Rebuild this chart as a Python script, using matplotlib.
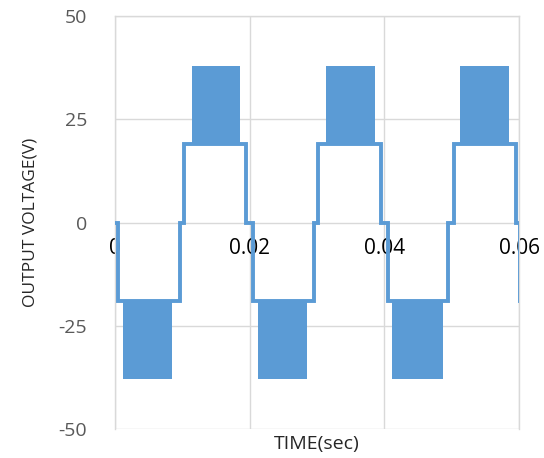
import matplotlib
matplotlib.use("Agg")
import matplotlib.pyplot as plt

# Five-level inverter output: staircase switching instants (s) and the level held after each
step_times = [0.0, 0.0005, 0.0096, 0.0103, 0.0195, 0.0205, 0.0295, 0.0302,
              0.0395, 0.0405, 0.0494, 0.0504, 0.0596, 0.0601, 0.0620]
step_levels = [0, -19, 0, 19, 0, -19, 0, 19, 0, -19, 0, 19, 0, -19, -19]

# High-frequency PWM bands between the inner and outer voltage levels
band_start = [0.0012, 0.0114, 0.0212, 0.0313, 0.0412, 0.0512]
band_end = [0.0085, 0.0186, 0.0285, 0.0386, 0.0487, 0.0585]
band_inner = [-19, 19, -19, 19, -19, 19]
band_outer = [-38, 38, -38, 38, -38, 38]

x_ticks = [0, 0.02, 0.04, 0.06]
x_tick_labels = ["0", "0.02", "0.04", "0.06"]
y_ticks = [-50, -25, 0, 25, 50]
y_tick_labels = ["-50", "-25", "0", "25", "50"]

BLUE = "#5B9BD5"
GRID = "#D9D9D9"

plt.rcParams["font.family"] = ["Open Sans", "DejaVu Sans"]

fig = plt.figure(figsize=(5.44, 4.58), dpi=100)
ax = fig.add_axes([115 / 544, 1 - 429 / 458, 404 / 544, 413 / 458])

ax.plot(step_times, step_levels, drawstyle="steps-post", color=BLUE,
        linewidth=2.8, solid_joinstyle="miter", zorder=3)
widths = [e - s for s, e in zip(band_start, band_end)]
heights = [o - i for i, o in zip(band_inner, band_outer)]
ax.bar(band_start, heights, width=widths, bottom=band_inner, align="edge",
       color=BLUE, linewidth=0, zorder=3)

ax.set_xlim(0, 0.06)
ax.set_ylim(-50, 50)
ax.set_xticks(x_ticks)
ax.set_xticklabels(x_tick_labels)
ax.set_yticks(y_ticks)
ax.set_yticklabels(y_tick_labels)

ax.grid(True, color=GRID, linewidth=1.0)
ax.set_axisbelow(True)
for side in ["top", "left", "right"]:
    ax.spines[side].set_color(GRID)
    ax.spines[side].set_linewidth(1.0)
ax.spines["bottom"].set_position(("data", 0))
ax.spines["bottom"].set_visible(False)

ax.tick_params(axis="x", length=0, pad=11, labelsize=15, labelcolor="#000000")
ax.tick_params(axis="y", length=0, pad=20, labelsize=14, labelcolor="#595959")

ax.set_xlabel("TIME(sec)", fontsize=14, color="#262626")
ax.xaxis.set_label_coords(0.5, -0.015)
ax.set_ylabel("OUTPUT VOLTAGE(V)", fontsize=12.5, color="#262626")
ax.yaxis.set_label_coords(-0.19, 0.5)

fig.savefig("out.png", dpi=100)
